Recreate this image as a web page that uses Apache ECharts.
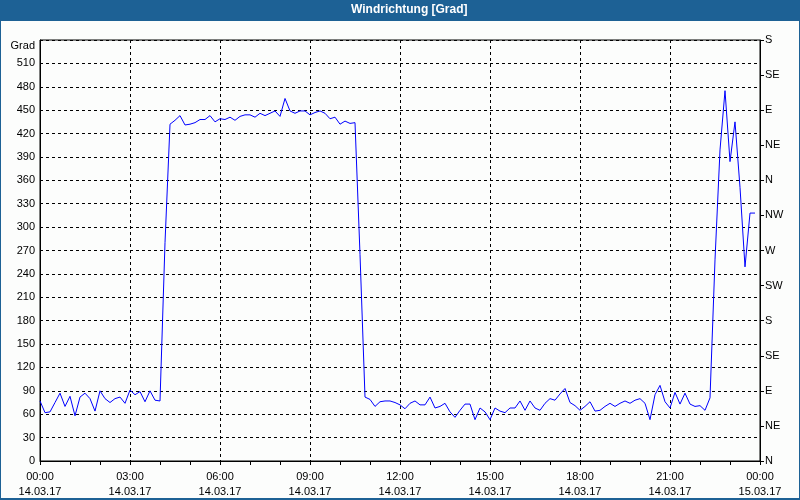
<!DOCTYPE html>
<html><head><meta charset="utf-8">
<script src="https://cdn.jsdelivr.net/npm/echarts@6/dist/echarts.min.js"></script>
<style>html,body{margin:0;padding:0;background:#fcfdfc}#c{width:800px;height:500px}</style>
</head><body><div id="c"></div><script>
const chartTitle = 'Windrichtung [Grad]';
const leftAxisName = 'Grad';
const stepMinutes = 10;
const xTimeLabels = ['00:00','03:00','06:00','09:00','12:00','15:00','18:00','21:00','00:00'];
const xDateLabels = ['14.03.17','14.03.17','14.03.17','14.03.17','14.03.17','14.03.17','14.03.17','14.03.17','15.03.17'];
const compassLabels = ['N','NE','E','SE','S','SW','W','NW','N','NE','E','SE','S'];
// wind direction every 10 minutes from 00:00 to 23:50
const direction = [
  77, 62, 63, 75, 87, 70, 83, 58, 82, 87, 80, 64, 90, 80, 75, 80, 82, 74, 91, 85, 89, 76, 90, 78, 77,
  280,
  432, 437, 443, 431, 432, 434, 438, 438, 443, 435, 439, 438, 441, 437, 442, 444, 444, 441, 446, 443,
  446, 449, 442, 465, 449, 446, 449, 449, 444, 447, 449, 446, 439, 441, 432, 436, 433, 434,
  265, 82,
  79, 70, 76, 77, 77, 75, 72, 67, 74, 77, 72, 72, 82, 68, 70, 74, 63, 56, 65, 73,
  73, 53, 68, 63, 53, 68, 64, 62, 68, 68, 77, 65, 77, 68, 65, 74, 80, 78,
  86, 93, 75, 71, 65, 70, 76, 64, 65, 70, 74, 70, 74, 77, 74, 78, 80, 74, 53, 85,
  97, 76, 68, 88, 73, 87, 73, 70, 71, 65, 81,
  258, 399, 475, 384, 435, 351, 249, 318, 318
];

const FONT = 'Liberation Sans';
const chart = echarts.init(document.getElementById('c'), null, {renderer: 'canvas'});
const dashed = {color: '#000', width: 1, type: [3, 3]};
chart.setOption({
  animation: false,
  backgroundColor: '#fcfdfc',
  title: {
    text: chartTitle, left: 351, top: 2, padding: [2, 0, 2, 0],
    textStyle: {color: '#ffffff', fontSize: 12, fontWeight: 'bold', fontFamily: FONT}
  },
  graphic: [
    {type: 'rect', z: -10, shape: {x: 0, y: 0, width: 800, height: 21}, style: {fill: '#1d6195'}},
    {type: 'rect', z: -10, shape: {x: 0, y: 0, width: 1, height: 500}, style: {fill: '#1d6195'}},
    {type: 'rect', z: -10, shape: {x: 799, y: 0, width: 1, height: 500}, style: {fill: '#1d6195'}},
    {type: 'rect', z: -10, shape: {x: 0, y: 498, width: 800, height: 2}, style: {fill: '#1d6195'}}
  ],
  grid: {left: 40, right: 40, top: 40, bottom: 39, show: true, borderColor: '#000', borderWidth: 1, backgroundColor: 'transparent'},
  xAxis: {
    type: 'value', min: 0, max: 24, interval: 3,
    axisLine: {lineStyle: {color: '#000', width: 1}},
    axisTick: {show: true, length: 4, lineStyle: {color: '#000'}},
    minorTick: {show: true, splitNumber: 3, length: 4, lineStyle: {color: '#000'}},
    splitLine: {show: true, lineStyle: dashed},
    axisLabel: {
      color: '#000', fontSize: 11, fontFamily: FONT, margin: 8, lineHeight: 15,
      showMinLabel: true, showMaxLabel: true,
      formatter: v => xTimeLabels[Math.round(v / 3)] + '\n' + xDateLabels[Math.round(v / 3)]
    }
  },
  yAxis: [
    {
      type: 'value', min: 0, max: 540, interval: 30, position: 'left',
      name: leftAxisName, nameLocation: 'end', nameGap: -6,
      nameTextStyle: {color: '#000', fontSize: 11, fontFamily: FONT, align: 'right', verticalAlign: 'middle', padding: [0, 5, 0, 0]},
      axisLine: {show: true, lineStyle: {color: '#000'}},
      axisTick: {show: false},
      splitLine: {show: true, lineStyle: dashed},
      axisLabel: {color: '#000', fontSize: 11, fontFamily: FONT, margin: 5, formatter: v => v === 540 ? '' : String(v)}
    },
    {
      type: 'value', min: 0, max: 540, interval: 45, position: 'right',
      axisLine: {show: true, lineStyle: {color: '#000'}},
      axisTick: {show: true, length: 4, lineStyle: {color: '#000'}},
      splitLine: {show: false},
      axisLabel: {color: '#000', fontSize: 11, fontFamily: FONT, margin: 5, formatter: v => compassLabels[Math.round(v / 45)]}
    }
  ],
  series: [{
    type: 'line', yAxisIndex: 0, showSymbol: false, symbol: 'none',
    lineStyle: {color: '#0000ff', width: 1},
    data: direction.map((v, i) => [i * stepMinutes / 60, v])
  }]
});
</script></body></html>
